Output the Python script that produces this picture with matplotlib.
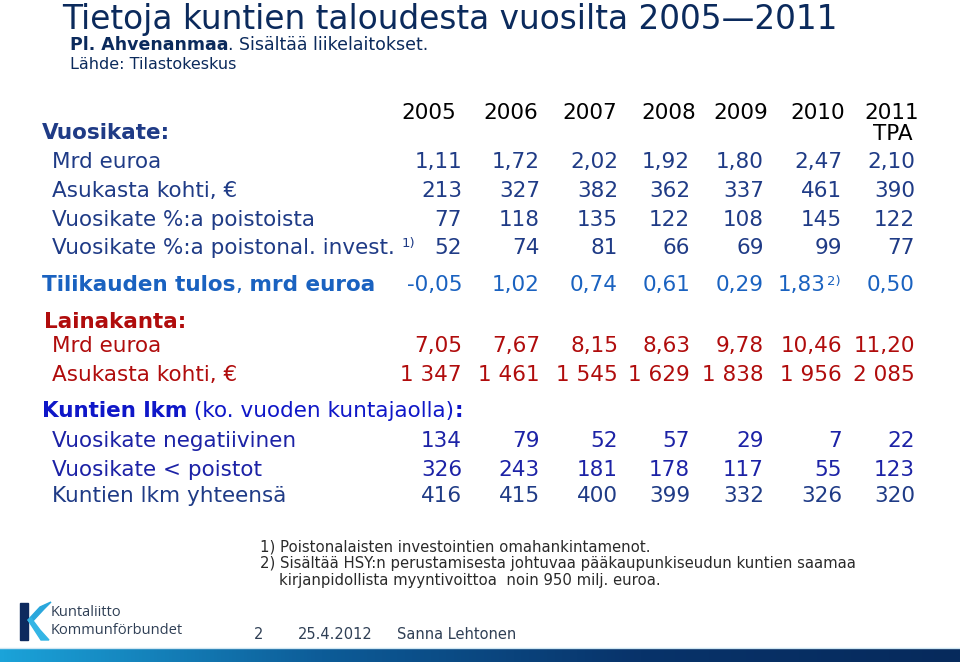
"""Tietoja kuntien taloudesta 2005-2011 -- table slide."""

import matplotlib

matplotlib.use("Agg")
import matplotlib.pyplot as plt
import numpy as np
from matplotlib.patches import Polygon

# --- data -----------------------------------------------------------------
years = ["2005", "2006", "2007", "2008", "2009", "2010", "2011"]

vuosikate_mrd = [1.11, 1.72, 2.02, 1.92, 1.80, 2.47, 2.10]
vuosikate_per_capita = [213, 327, 382, 362, 337, 461, 390]
vuosikate_pct_depr = [77, 118, 135, 122, 108, 145, 122]
vuosikate_pct_invest = [52, 74, 81, 66, 69, 99, 77]

tulos_mrd = [-0.05, 1.02, 0.74, 0.61, 0.29, 1.83, 0.50]

laina_mrd = [7.05, 7.67, 8.15, 8.63, 9.78, 10.46, 11.20]
laina_per_capita = [1347, 1461, 1545, 1629, 1838, 1956, 2085]

kunnat_negative = [134, 79, 52, 57, 29, 7, 22]
kunnat_below_depr = [326, 243, 181, 178, 117, 55, 123]
kunnat_total = [416, 415, 400, 399, 332, 326, 320]

footnotes = [
    "1) Poistonalaisten investointien omahankintamenot.",
    "2) Sisältää HSY:n perustamisesta johtuvaa pääkaupunkiseudun kuntien saamaa",
    "    kirjanpidollista myyntivoittoa  noin 950 milj. euroa.",
]

# --- layout / style ---------------------------------------------------------
NAVY = "#1f3b86"
TULOS = "#1a62c0"
RED = "#b00c0c"
BRIGHT = "#0f17c8"
DARKBLUE = "#1c22a6"
TITLE = "#0b2a5c"
FOOT = "#2f3f55"

col_x = [462, 540, 618, 690, 764, 842, 915]
head_x = [429, 511, 590, 669, 741, 818, 892]
TABLE_FONT = "DejaVu Sans"
SLIDE_FONT = "DejaVu Sans"
FS = 15.5


def fmt_dec(v):
    return f"{v:.2f}".replace(".", ",")


def fmt_int(v):
    return f"{v:,}".replace(",", " ")


fig = plt.figure(figsize=(9.6, 6.62), dpi=100)
ax = fig.add_axes([0, 0, 1, 1])
ax.set_xlim(0, 960)
ax.set_ylim(662, 0)
ax.axis("off")

# title block
ax.text(62, 29, "Tietoja kuntien taloudesta vuosilta 2005\u20142011",
        fontsize=23.6, family=SLIDE_FONT, color=TITLE, va="baseline")
t = ax.text(70, 50, "Pl. Ahvenanmaa", fontsize=12.5, family=SLIDE_FONT,
            weight="bold", color=TITLE, va="baseline")
ax.annotate(". Sisältää liikelaitokset.", xycoords=t, xy=(1, 0),
            fontsize=12.5, family=SLIDE_FONT, color=TITLE, va="bottom")
ax.text(70, 69, "Lähde: Tilastokeskus", fontsize=11.5, family=SLIDE_FONT,
        color=TITLE, va="baseline")

# header row
for x, y in zip(head_x, years):
    ax.text(x, 113, y, fontsize=FS, family=TABLE_FONT, color="black",
            ha="center", va="center")
ax.text(col_x[-1] - 2, 134, "TPA", fontsize=FS, family=TABLE_FONT,
        color="black", ha="right", va="center")


def section(y, label, color, bold=True, x=42):
    return ax.text(x, y, label, fontsize=FS, family=TABLE_FONT, color=color,
                   weight="bold" if bold else "normal", va="center")


def row(y, label, values, fmt, color, label_color=None):
    ax.text(52, y, label, fontsize=FS, family=TABLE_FONT,
            color=label_color or color, va="center")
    for x, v in zip(col_x, values):
        ax.text(x, y, fmt(v), fontsize=FS, family=TABLE_FONT, color=color,
                ha="right", va="center")


section(133, "Vuosikate:", NAVY)
row(162, "Mrd euroa", vuosikate_mrd, fmt_dec, NAVY)
row(191, "Asukasta kohti, €", vuosikate_per_capita, fmt_int, NAVY)
row(220, "Vuosikate %:a poistoista", vuosikate_pct_depr, fmt_int, NAVY)
row(248, "Vuosikate %:a poistonal. invest.", vuosikate_pct_invest, fmt_int, NAVY)
ax.text(402, 243, "1)", fontsize=9.5, family=TABLE_FONT, color=NAVY, va="center")

# tilikauden tulos
t = section(285, "Tilikauden tulos", TULOS)
t2 = ax.annotate(",", xycoords=t, xy=(1, 0.5), fontsize=FS, family=TABLE_FONT,
                 color=TULOS, va="center")
ax.annotate(" mrd euroa", xycoords=t2, xy=(1, 0.5), fontsize=FS,
            family=TABLE_FONT, weight="bold", color=TULOS, va="center")
for i, (x, v) in enumerate(zip(col_x, tulos_mrd)):
    s = fmt_dec(v)
    if i == 5:
        ax.text(x - 16, 285, s, fontsize=FS, family=TABLE_FONT, color=TULOS,
                ha="right", va="center")
        ax.text(x - 15, 281, "2)", fontsize=9.5, family=TABLE_FONT,
                color=TULOS, va="center")
    else:
        ax.text(x, 285, s, fontsize=FS, family=TABLE_FONT, color=TULOS,
                ha="right", va="center")

# lainakanta
section(322, "Lainakanta:", RED, x=44)
row(346, "Mrd euroa", laina_mrd, fmt_dec, RED)
row(375, "Asukasta kohti, €", laina_per_capita, fmt_int, RED)

# kuntien lkm
t = section(411, "Kuntien lkm", BRIGHT)
t2 = ax.annotate(" (ko. vuoden kuntajaolla)", xycoords=t, xy=(1, 0.5),
                 fontsize=FS, family=TABLE_FONT, color=BRIGHT, va="center")
ax.annotate(":", xycoords=t2, xy=(1, 0.5), fontsize=FS, family=TABLE_FONT,
            weight="bold", color=BRIGHT, va="center")
row(441, "Vuosikate negatiivinen", kunnat_negative, fmt_int, DARKBLUE)
row(470, "Vuosikate < poistot", kunnat_below_depr, fmt_int, DARKBLUE)
row(496, "Kuntien lkm yhteensä", kunnat_total, fmt_int, NAVY)

# footnotes
for i, line in enumerate(footnotes):
    ax.text(260, 551 + 17 * i, line, fontsize=10.7, family=SLIDE_FONT,
            color="#2a2a2a", va="baseline")

# footer: logo, page, date, author
ax.add_patch(Polygon([(20, 603), (28, 603), (28, 640), (20, 640)],
                     closed=True, color="#0d2a5e"))
ax.add_patch(Polygon([(28, 620), (40, 607), (51, 602), (44, 609), (31, 623)],
                     closed=True, color="#2aa7dc"))
ax.add_patch(Polygon([(28, 620), (31, 618), (40, 630), (49, 640), (41, 640)],
                     closed=True, color="#33b5e5"))
ax.text(51, 613, "Kuntaliitto", fontsize=10.5, family="Open Sans",
        color=FOOT, va="center")
ax.text(51, 631, "Kommunförbundet", fontsize=10.5, family="Open Sans",
        color=FOOT, va="center")
ax.text(254, 639, "2", fontsize=10.5, family=SLIDE_FONT,
        color=FOOT, va="baseline")
ax.text(298, 639, "25.4.2012", fontsize=10.5, family=SLIDE_FONT,
        color=FOOT, va="baseline")
ax.text(397, 639, "Sanna Lehtonen", fontsize=10.5, family=SLIDE_FONT,
        color=FOOT, va="baseline")

# gradient bar at the bottom
grad = np.linspace(0, 1, 256).reshape(1, -1)
cmap = matplotlib.colors.LinearSegmentedColormap.from_list(
    "bar", ["#1ba3d9", "#0d5c98", "#08336a", "#062a5c"])
ax.plot([0, 960], [647.5, 647.5], color="#cfe6f2", lw=1)
ax.imshow(grad, extent=(0, 960, 662, 648), aspect="auto", cmap=cmap,
          zorder=0)
ax.set_xlim(0, 960)
ax.set_ylim(662, 0)

fig.savefig("out.png", dpi=100, facecolor="white")
